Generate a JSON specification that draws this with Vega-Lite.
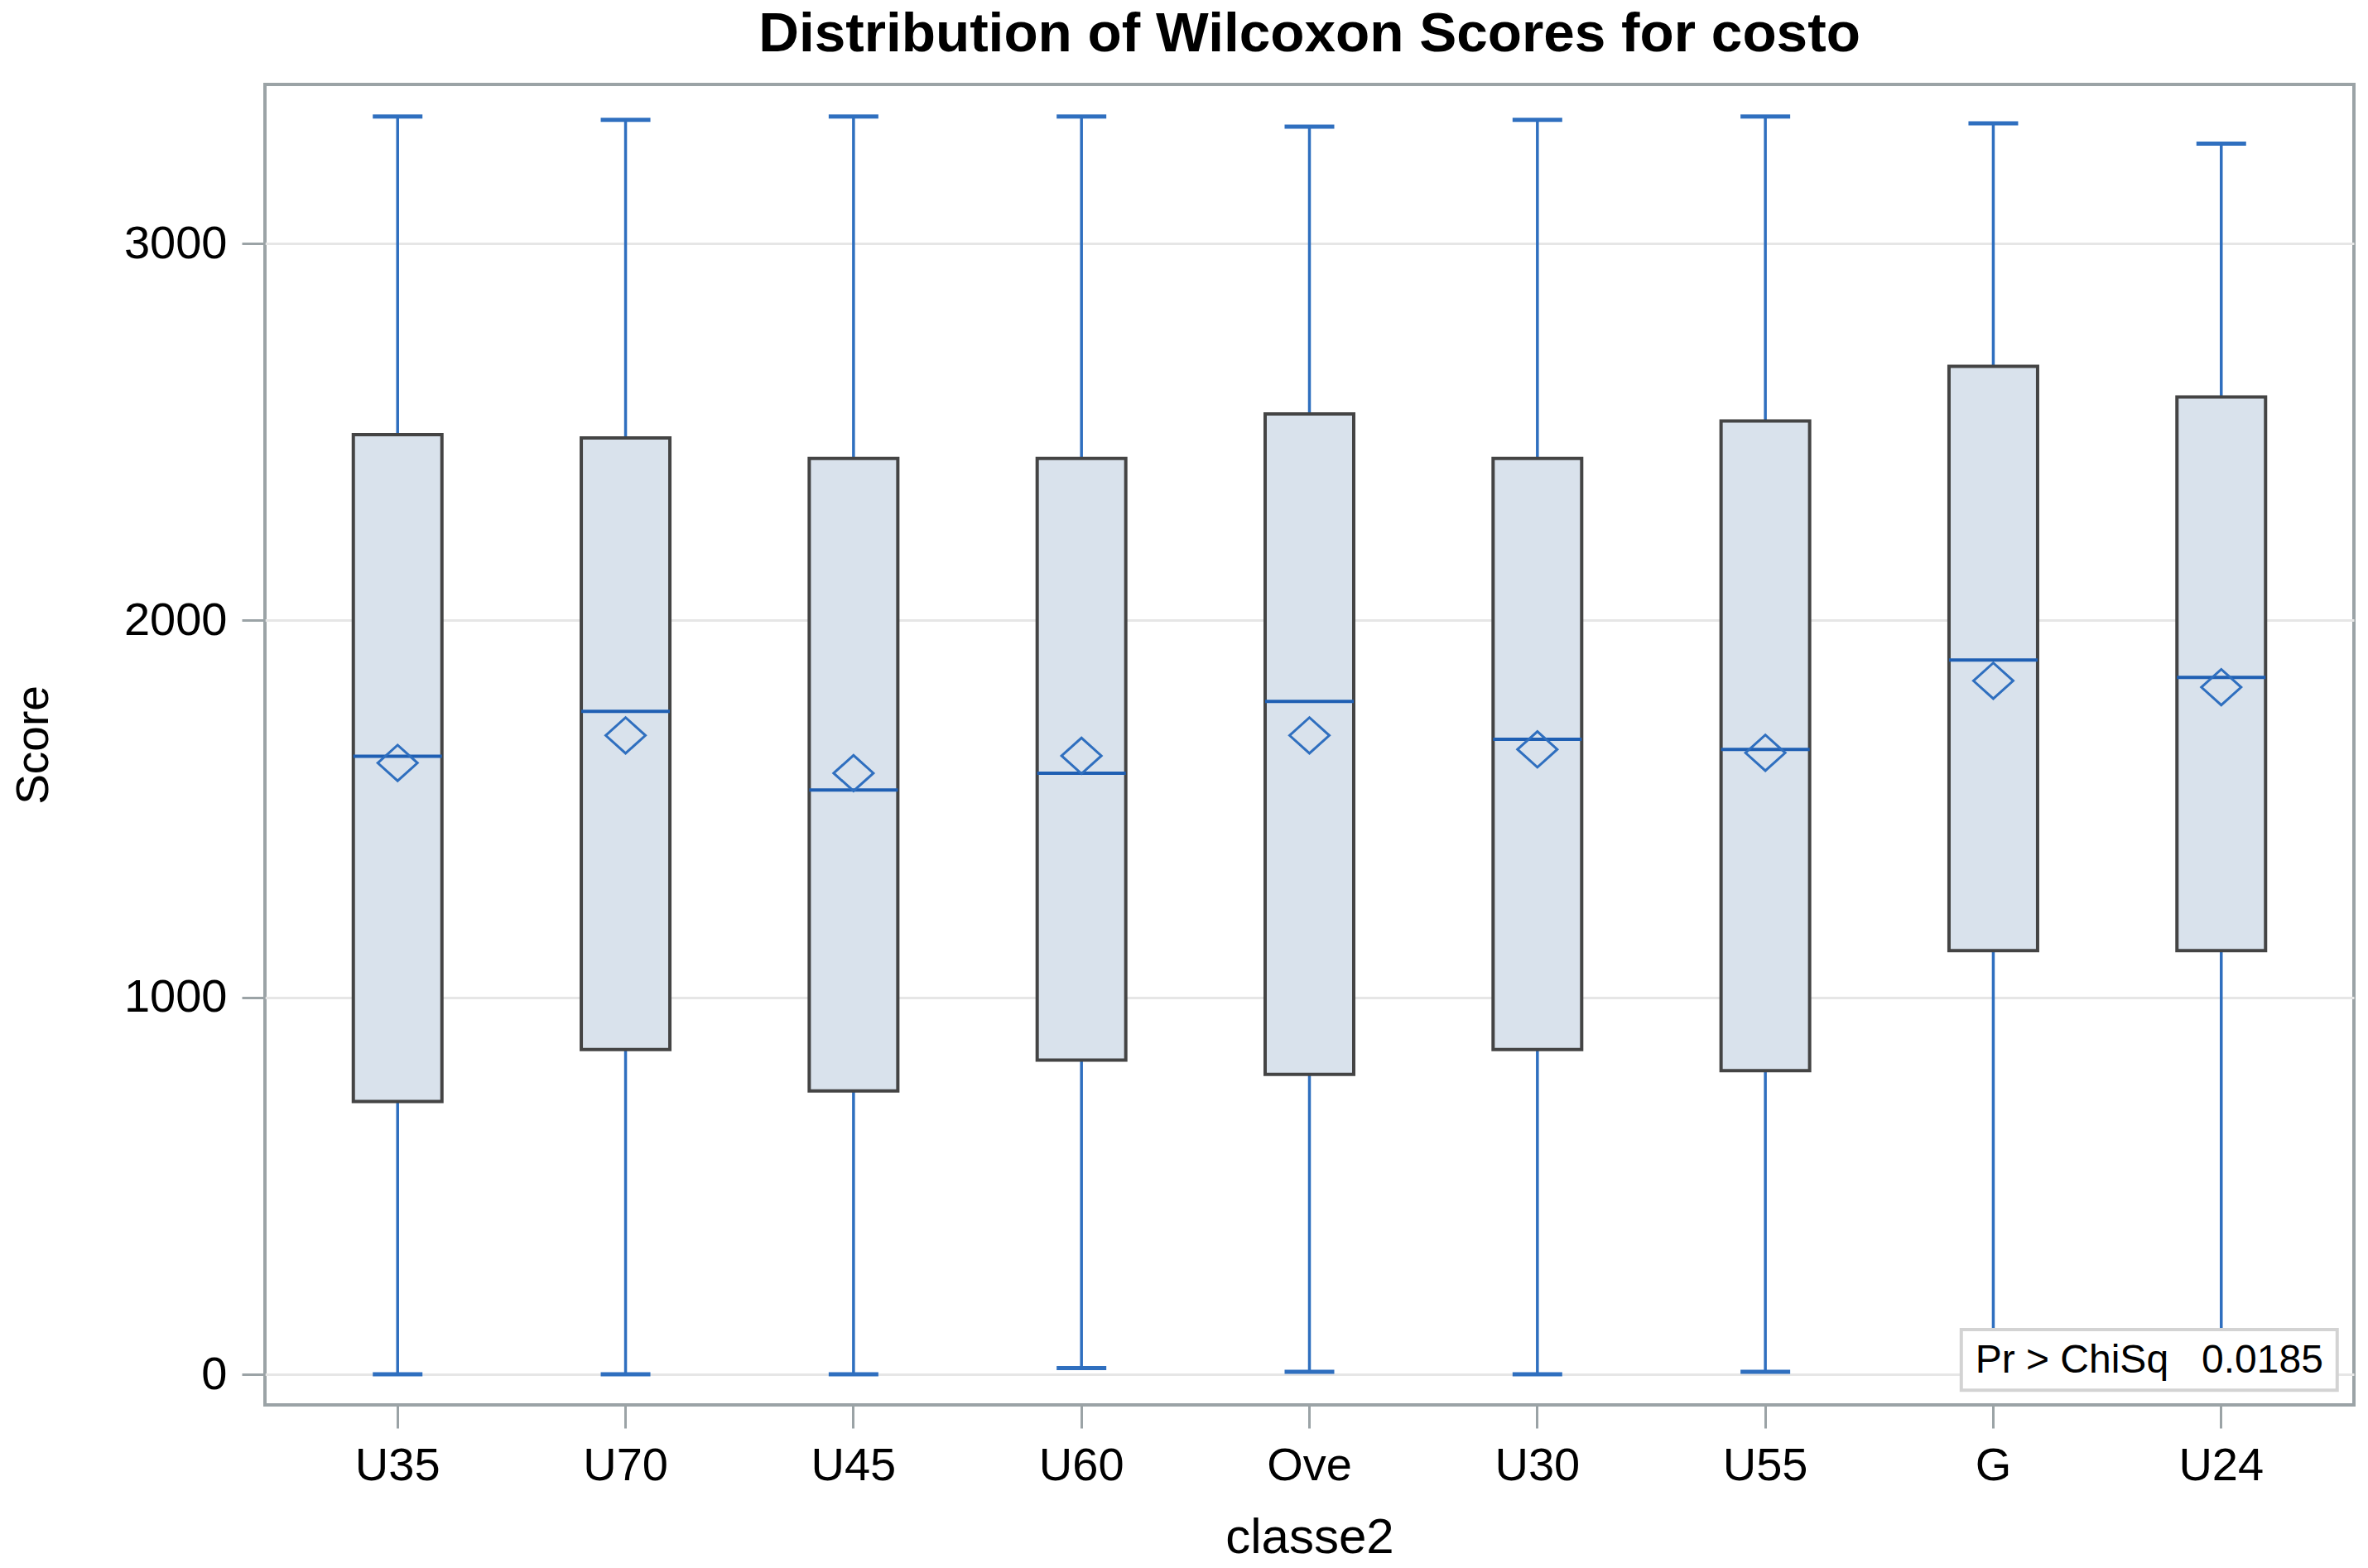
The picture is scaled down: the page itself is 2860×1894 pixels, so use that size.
{
  "$schema": "https://vega.github.io/schema/vega-lite/v6.json",
  "autosize": {"type": "none"},
  "width": 2523,
  "height": 1595,
  "padding": {"left": 320, "top": 102, "right": 17, "bottom": 197},
  "background": "white",
  "title": {
    "text": "Distribution of Wilcoxon Scores for costo",
    "font": "Liberation Sans",
    "fontSize": 67.5,
    "fontWeight": "bold",
    "color": "black",
    "anchor": "middle",
    "baseline": "bottom",
    "offset": -41
  },
  "config": {
    "view": {"stroke": "#9ba3a6", "strokeWidth": 4},
    "font": "Liberation Sans",
    "axis": {
      "labelFont": "Liberation Sans",
      "labelFontSize": 56,
      "labelColor": "black",
      "titleFont": "Liberation Sans",
      "titleFontWeight": "normal",
      "titleColor": "black",
      "tickColor": "#9ba3a6",
      "tickWidth": 3,
      "tickSize": 28,
      "domain": false,
      "labelPadding": 18
    },
    "axisY": {
      "grid": true,
      "gridColor": "#e6e6e6",
      "gridWidth": 3,
      "titleFontSize": 55,
      "titlePadding": 80
    },
    "axisX": {"grid": false, "labelAngle": 0, "titleFontSize": 60, "titlePadding": 30}
  },
  "datasets": {
    "stats": [
      {"cls": "U35", "min": 0, "q1": 724, "median": 1640, "mean": 1622, "q3": 2493, "max": 3337},
      {"cls": "U70", "min": 0, "q1": 862, "median": 1759, "mean": 1695, "q3": 2484, "max": 3328},
      {"cls": "U45", "min": 0, "q1": 752, "median": 1550, "mean": 1595, "q3": 2430, "max": 3337},
      {"cls": "U60", "min": 17, "q1": 834, "median": 1595, "mean": 1641, "q3": 2430, "max": 3337},
      {"cls": "Ove", "min": 7, "q1": 796, "median": 1785, "mean": 1695, "q3": 2548, "max": 3310},
      {"cls": "U30", "min": 0, "q1": 862, "median": 1685, "mean": 1658, "q3": 2430, "max": 3328},
      {"cls": "U55", "min": 7, "q1": 806, "median": 1658, "mean": 1649, "q3": 2529, "max": 3337},
      {"cls": "G", "min": 0, "q1": 1124, "median": 1895, "mean": 1840, "q3": 2674, "max": 3319},
      {"cls": "U24", "min": 0, "q1": 1124, "median": 1849, "mean": 1823, "q3": 2593, "max": 3265}
    ],
    "inset": [
      {"cls": "U24", "ylo": -42, "yhi": 119, "ytext": 4, "label": "Pr > ChiSq\u00a0\u00a0\u00a00.0185"}
    ]
  },
  "encoding": {
    "x": {
      "field": "cls",
      "type": "nominal",
      "sort": null,
      "title": "classe2",
      "scale": {"paddingInner": 0, "paddingOuter": 0.082}
    }
  },
  "layer": [
    {
      "data": {"name": "stats"},
      "mark": {"type": "rule", "color": "#2f6fbf", "strokeWidth": 3.5},
      "encoding": {
        "y": {
          "field": "min",
          "type": "quantitative",
          "title": "Score",
          "scale": {"domain": [-81, 3422], "nice": false, "zero": false},
          "axis": {"values": [0, 1000, 2000, 3000], "format": "d"}
        },
        "y2": {"field": "max"}
      }
    },
    {
      "data": {"name": "stats"},
      "mark": {"type": "tick", "orient": "horizontal", "size": 60, "thickness": 5, "color": "#2f6fbf", "opacity": 1},
      "encoding": {
        "y": {"field": "max", "type": "quantitative", "title": "Score"}
      }
    },
    {
      "data": {"name": "stats"},
      "mark": {"type": "tick", "orient": "horizontal", "size": 60, "thickness": 5, "color": "#2f6fbf", "opacity": 1},
      "encoding": {
        "y": {"field": "min", "type": "quantitative", "title": "Score"}
      }
    },
    {
      "data": {"name": "stats"},
      "mark": {"type": "bar", "width": 107, "fill": "#d9e2ec", "stroke": "#444444", "strokeWidth": 4},
      "encoding": {
        "y": {"field": "q1", "type": "quantitative", "title": "Score"},
        "y2": {"field": "q3"}
      }
    },
    {
      "data": {"name": "stats"},
      "mark": {"type": "tick", "orient": "horizontal", "size": 107, "thickness": 4, "color": "#1f5fb3", "opacity": 1},
      "encoding": {
        "y": {"field": "median", "type": "quantitative", "title": "Score"}
      }
    },
    {
      "data": {"name": "stats"},
      "mark": {"type": "point", "shape": "M-1,0L0,-0.9L1,0L0,0.9Z", "size": 2304, "filled": false, "stroke": "#2f6fbf", "strokeWidth": 3, "opacity": 1},
      "encoding": {
        "y": {"field": "mean", "type": "quantitative", "title": "Score"}
      }
    },
    {
      "data": {"name": "inset"},
      "mark": {"type": "bar", "width": 454, "xOffset": -87, "fill": "white", "stroke": "#d3d3d3", "strokeWidth": 4},
      "encoding": {
        "y": {"field": "ylo", "type": "quantitative", "title": "Score"},
        "y2": {"field": "yhi"}
      }
    },
    {
      "data": {"name": "inset"},
      "mark": {"type": "text", "dx": -87, "fontSize": 48, "font": "Liberation Sans", "align": "center", "baseline": "alphabetic", "color": "black"},
      "encoding": {
        "y": {"field": "ytext", "type": "quantitative", "title": "Score"},
        "text": {"field": "label"}
      }
    }
  ]
}
